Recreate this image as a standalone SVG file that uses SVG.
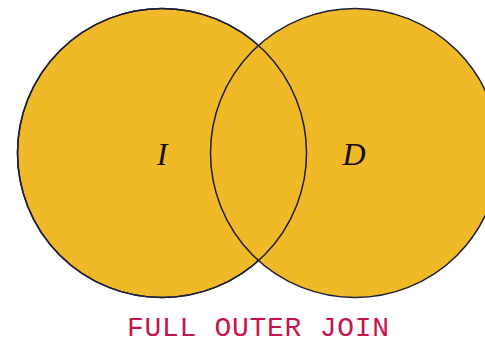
<svg xmlns="http://www.w3.org/2000/svg" width="485" height="345" viewBox="0 0 485 345">
<style>
.set{fill:#F0B928;stroke:#1c1c3c;stroke-width:1.5}
.lbl{font-family:"Liberation Serif",serif;font-style:italic;font-size:32px;fill:#111}
.title{font-family:"Liberation Mono",monospace;font-size:28px;fill:#C8144C}
</style>
<g id="I"><circle class="set" cx="162" cy="153" r="144.5"/></g>
<g id="D"><circle class="set" cx="355" cy="153" r="144.5"/></g>
<g id="overlap-outline"><circle cx="162" cy="153" r="144.5" fill="none" stroke="#1c1c3c" stroke-width="1.5"/></g>
<g id="connectors"></g>
<text class="lbl" x="162" y="165" text-anchor="middle">I</text>
<text class="lbl" x="354" y="165" text-anchor="middle">D</text>
<text class="title" x="258" y="336" text-anchor="middle" textLength="262" lengthAdjust="spacing">FULL OUTER JOIN</text>
</svg>
